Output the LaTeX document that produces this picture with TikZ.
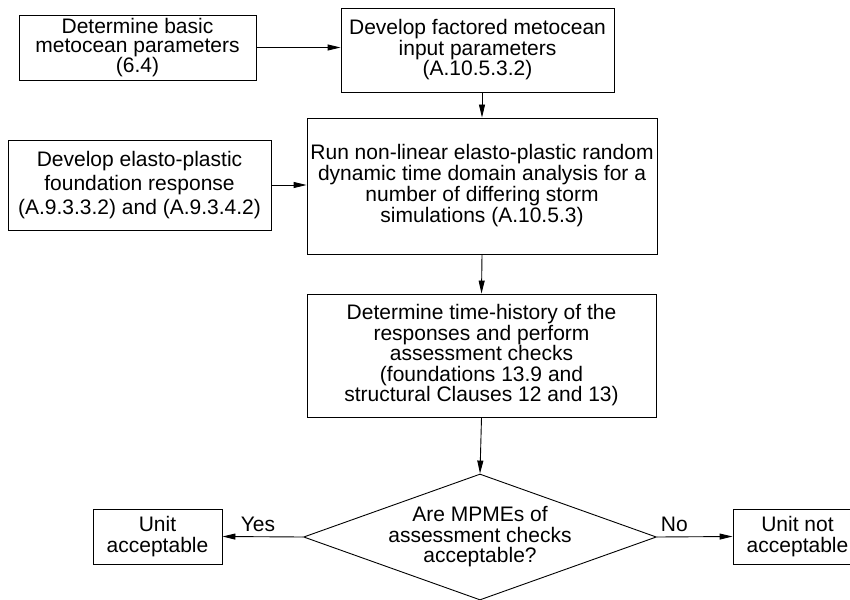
\documentclass[tikz,border=0pt]{standalone}
\usepackage{fontspec}
\setmainfont{Liberation Sans}
\usetikzlibrary{positioning,arrows.meta,shapes.geometric}

\begin{document}
\begin{tikzpicture}[x=1pt, y=-1pt,
  stepbox/.style={draw, rectangle, line width=0.9pt, inner sep=0pt,
                  align=center},
  decision/.style={draw, diamond, shape aspect=2.8, line width=0.9pt,
                   inner sep=0pt, align=center, minimum width=340pt,
                   minimum height=122pt},
  flow/.style={line width=0.9pt, -{Triangle[length=13pt,width=6pt]}},
  lbl/.style={inner sep=1pt},
  font=\fontsize{21}{20.5}\selectfont
]
\clip (0,0) rectangle (850,599);
% ---- inputs ----
\node[stepbox, minimum width=237pt, minimum height=65pt,
      font=\fontsize{21}{19}\selectfont] (basic) at (137.5,47.5)
  {Determine basic\\metocean parameters\\(6.4)};
\node[stepbox, minimum width=273pt, minimum height=84pt] (factored) at (477.5,50)
  {Develop factored metocean\\input parameters\\(A.10.5.3.2)};
\node[stepbox, minimum width=263pt, minimum height=90pt,
      font=\fontsize{21}{24}\selectfont] (elasto) at (139.5,185)
  {Develop elasto-plastic\\foundation response\\(A.9.3.3.2) and (A.9.3.4.2)};
% ---- analysis chain ----
\node[stepbox, minimum width=350pt, minimum height=136pt,
      font=\fontsize{21}{21}\selectfont] (run) at (482,186)
  {Run non-linear elasto-plastic random\\dynamic time domain analysis for a\\
   number of differing storm\\simulations (A.10.5.3)};
\node[stepbox, minimum width=349pt, minimum height=123pt] (history) at (481.5,355.5)
  {Determine time-history of the\\responses and perform\\assessment checks\\
   (foundations 13.9 and\\structural Clauses 12 and 13)};
\node[decision] (check) at (480,537)
  {Are MPMEs of\\assessment checks\\acceptable?};
% ---- outcomes ----
\node[stepbox, minimum width=129pt, minimum height=55pt] (accept) at (157.5,536.5)
  {Unit\\acceptable};
\node[stepbox, minimum width=129pt, minimum height=55pt] (reject) at (797.5,536.5)
  {Unit not\\acceptable};

\draw[flow] (basic.east) -- (basic.east -| factored.west);
\draw[flow] (elasto.east) -- (elasto.east -| run.west);
\draw[flow] (run.north |- factored.south) -- (run.north);
\draw[flow] (run.south) -- (history.north);
\draw[flow] (history.south) -- (check.north);
\draw[flow] (check.west) -- node[lbl, above=4pt, pos=0.56] (yes) {Yes} (accept.east);
\draw[flow] (check.east) -- node[lbl, above=4pt, pos=0.23] (no) {No} (reject.west);
\end{tikzpicture}
\end{document}
